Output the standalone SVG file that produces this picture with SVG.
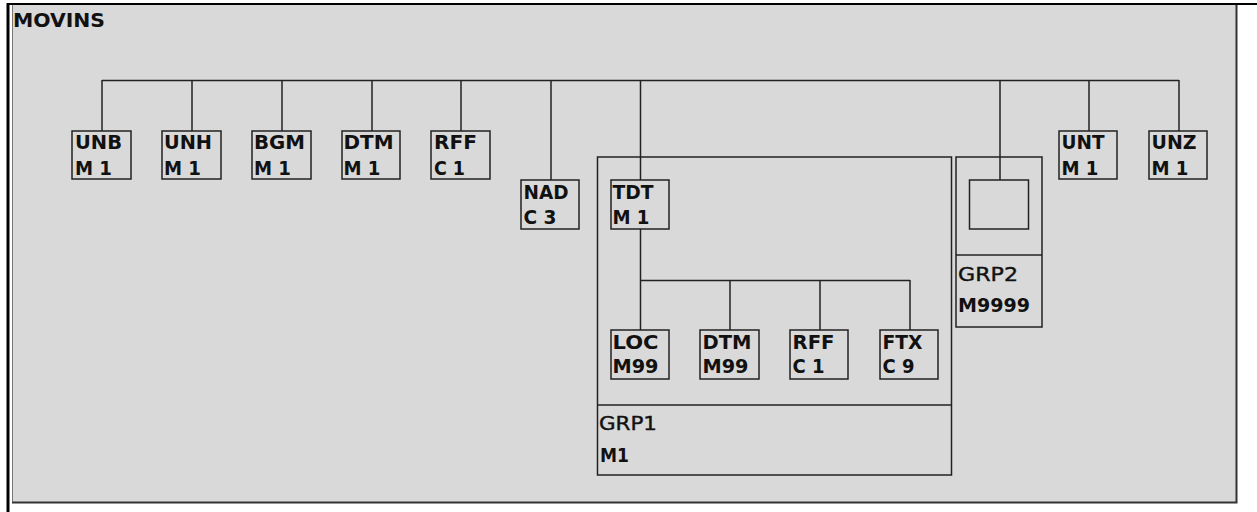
<svg xmlns="http://www.w3.org/2000/svg" width="1257" height="512" viewBox="0 0 1257 512">
<style>
.box{fill:none;stroke:#222;stroke-width:1.5}
.grp{fill:none;stroke:#222;stroke-width:1.5}
.ln{fill:none;stroke:#222;stroke-width:1.5}
text{font-family:"DejaVu Sans","Liberation Sans",Arial,sans-serif;font-size:20px;font-weight:bold;fill:#111}
.gl{font-size:19px;font-weight:normal;stroke:#111;stroke-width:0.4}
.gb{font-size:19px}
</style>
<rect width="1257" height="512" fill="#fff"/>
<g id="frame">
<rect x="12.5" y="5" width="1224" height="497.5" fill="#d9d9d9"/>
<line x1="12.5" y1="5" x2="12.5" y2="502" stroke="#777" stroke-width="1"/>
<polyline points="12,502.5 1236.5,502.5 1236.5,5" fill="none" stroke="#333" stroke-width="2"/>
<line x1="7" y1="4" x2="1257" y2="4" stroke="#000" stroke-width="2"/>
<line x1="8" y1="3" x2="8" y2="512" stroke="#000" stroke-width="3"/>
<text x="13" y="27" textLength="92" lengthAdjust="spacingAndGlyphs">MOVINS</text>
</g>
<g id="connectors">
<line class="ln" x1="102" y1="80.5" x2="1179" y2="80.5"/>
<line class="ln" x1="102" y1="80" x2="102" y2="131"/>
<line class="ln" x1="192" y1="80" x2="192" y2="131"/>
<line class="ln" x1="282" y1="80" x2="282" y2="131"/>
<line class="ln" x1="372" y1="80" x2="372" y2="131"/>
<line class="ln" x1="461" y1="80" x2="461" y2="131"/>
<line class="ln" x1="551" y1="80" x2="551" y2="180"/>
<line class="ln" x1="640.5" y1="80" x2="640.5" y2="180"/>
<line class="ln" x1="1000" y1="80" x2="1000" y2="180"/>
<line class="ln" x1="1089" y1="80" x2="1089" y2="131"/>
<line class="ln" x1="1179" y1="80" x2="1179" y2="131"/>
<line class="ln" x1="640.5" y1="229" x2="640.5" y2="330"/>
<line class="ln" x1="640.5" y1="280.5" x2="910" y2="280.5"/>
<line class="ln" x1="730" y1="280" x2="730" y2="330"/>
<line class="ln" x1="820" y1="280" x2="820" y2="330"/>
<line class="ln" x1="910" y1="280" x2="910" y2="330"/>
</g>
<g id="UNB"><rect class="box" x="72" y="131" width="59" height="48"/><text x="75" y="149" textLength="47" lengthAdjust="spacingAndGlyphs">UNB</text><text x="75" y="175" textLength="37" lengthAdjust="spacingAndGlyphs">M 1</text></g>
<g id="UNH"><rect class="box" x="162" y="131" width="59" height="48"/><text x="164" y="149" textLength="48" lengthAdjust="spacingAndGlyphs">UNH</text><text x="164" y="175" textLength="37" lengthAdjust="spacingAndGlyphs">M 1</text></g>
<g id="BGM"><rect class="box" x="252" y="131" width="59" height="48"/><text x="254" y="149" textLength="51" lengthAdjust="spacingAndGlyphs">BGM</text><text x="254" y="175" textLength="37" lengthAdjust="spacingAndGlyphs">M 1</text></g>
<g id="DTM"><rect class="box" x="342" y="131" width="58" height="48"/><text x="343.5" y="149" textLength="50" lengthAdjust="spacingAndGlyphs">DTM</text><text x="343.5" y="175" textLength="37" lengthAdjust="spacingAndGlyphs">M 1</text></g>
<g id="RFF"><rect class="box" x="431" y="131" width="59" height="48"/><text x="434" y="149" textLength="43" lengthAdjust="spacingAndGlyphs">RFF</text><text x="434" y="175" textLength="31" lengthAdjust="spacingAndGlyphs">C 1</text></g>
<g id="NAD"><rect class="box" x="521" y="180" width="58" height="49"/><text x="523.5" y="199" textLength="45" lengthAdjust="spacingAndGlyphs">NAD</text><text x="523.5" y="224" textLength="33" lengthAdjust="spacingAndGlyphs">C 3</text></g>
<g id="GRP1">
<rect class="grp" x="597.5" y="157" width="354" height="318"/>
<line class="ln" x1="597.5" y1="405" x2="951.5" y2="405"/>
<text class="gl" x="599" y="430" textLength="58" lengthAdjust="spacingAndGlyphs">GRP1</text>
<text class="gb" x="600" y="462" textLength="29" lengthAdjust="spacingAndGlyphs">M1</text>
</g>
<g id="TDT"><rect class="box" x="611" y="180" width="58" height="49"/><text x="612.5" y="199" textLength="41" lengthAdjust="spacingAndGlyphs">TDT</text><text x="612.5" y="224" textLength="37" lengthAdjust="spacingAndGlyphs">M 1</text></g>
<g id="LOC"><rect class="box" x="611" y="330" width="58" height="49"/><text x="612.5" y="349" textLength="46" lengthAdjust="spacingAndGlyphs">LOC</text><text x="612.5" y="373" textLength="46" lengthAdjust="spacingAndGlyphs">M99</text></g>
<g id="DTM2"><rect class="box" x="700" y="330" width="59" height="49"/><text x="702.5" y="349" textLength="49" lengthAdjust="spacingAndGlyphs">DTM</text><text x="702.5" y="373" textLength="46" lengthAdjust="spacingAndGlyphs">M99</text></g>
<g id="RFF2"><rect class="box" x="790" y="330" width="58" height="49"/><text x="792.5" y="349" textLength="42" lengthAdjust="spacingAndGlyphs">RFF</text><text x="792.5" y="373" textLength="32" lengthAdjust="spacingAndGlyphs">C 1</text></g>
<g id="FTX"><rect class="box" x="880" y="330" width="58" height="49"/><text x="882.5" y="349" textLength="40" lengthAdjust="spacingAndGlyphs">FTX</text><text x="882.5" y="373" textLength="32" lengthAdjust="spacingAndGlyphs">C 9</text></g>
<g id="GRP2">
<rect class="grp" x="956" y="157" width="86" height="170"/>
<line class="ln" x1="956" y1="255" x2="1042" y2="255"/>
<rect class="box" x="969.5" y="180" width="59" height="49"/>
<text class="gl" x="958" y="281" textLength="60" lengthAdjust="spacingAndGlyphs">GRP2</text>
<text class="gb" x="958" y="312" textLength="72" lengthAdjust="spacingAndGlyphs">M9999</text>
</g>
<g id="UNT"><rect class="box" x="1059" y="131" width="58" height="48"/><text x="1061.5" y="149" textLength="43" lengthAdjust="spacingAndGlyphs">UNT</text><text x="1061.5" y="175" textLength="37" lengthAdjust="spacingAndGlyphs">M 1</text></g>
<g id="UNZ"><rect class="box" x="1149" y="131" width="58" height="48"/><text x="1151.5" y="149" textLength="45" lengthAdjust="spacingAndGlyphs">UNZ</text><text x="1151.5" y="175" textLength="37" lengthAdjust="spacingAndGlyphs">M 1</text></g>
</svg>
